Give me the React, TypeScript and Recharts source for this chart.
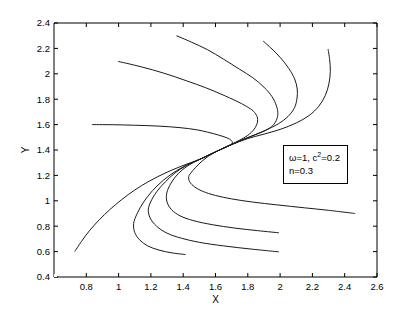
import React from 'react';
import { LineChart, Line, XAxis, YAxis, Customized } from 'recharts';

type P = [number, number];

const xTicks = [0.8, 1, 1.2, 1.4, 1.6, 1.8, 2, 2.2, 2.4, 2.6];
const yTicks = [0.4, 0.6, 0.8, 1, 1.2, 1.4, 1.6, 1.8, 2, 2.2, 2.4];
const frameCorner = [{ x: 0.6, y: 0.4 }];

// upper branches (from the central pinch outwards)
const upper1: P[] = [[1.6, 1.385], [1.7, 1.442], [1.8, 1.49], [1.9, 1.525], [2.0, 1.562], [2.1, 1.613], [2.18, 1.672], [2.24, 1.745], [2.28, 1.83], [2.302, 1.92], [2.311, 2.02], [2.307, 2.11], [2.297, 2.195]];
const upper2: P[] = [[1.6, 1.385], [1.7, 1.443], [1.8, 1.497], [1.9, 1.55], [1.99, 1.607], [2.05, 1.665], [2.09, 1.735], [2.105, 1.81], [2.106, 1.88], [2.09, 1.96], [2.055, 2.04], [2.0, 2.13], [1.95, 2.195], [1.895, 2.258]];
const upper3: P[] = [[1.6, 1.385], [1.7, 1.445], [1.8, 1.498], [1.88, 1.537], [1.935, 1.572], [1.97, 1.617], [1.986, 1.68], [1.978, 1.745], [1.95, 1.82], [1.9, 1.895], [1.83, 1.97], [1.75, 2.035], [1.65, 2.115], [1.55, 2.19], [1.45, 2.25], [1.358, 2.3]];
const upper4: P[] = [[1.6, 1.385], [1.7, 1.446], [1.75, 1.478], [1.8, 1.515], [1.84, 1.565], [1.86, 1.62], [1.858, 1.662], [1.835, 1.705], [1.79, 1.745], [1.73, 1.785], [1.64, 1.837], [1.54, 1.89], [1.42, 1.945], [1.28, 2.005], [1.14, 2.055], [0.996, 2.098]];
const upper5: P[] = [[1.6, 1.385], [1.65, 1.415], [1.69, 1.438], [1.705, 1.456], [1.697, 1.476], [1.67, 1.496], [1.62, 1.517], [1.55, 1.541], [1.48, 1.56], [1.38, 1.576], [1.25, 1.588], [1.1, 1.595], [0.96, 1.599], [0.835, 1.6]];

// lower branches (from the central pinch outwards)
const lower1: P[] = [[1.6, 1.385], [1.5, 1.325], [1.42, 1.288], [1.3, 1.225], [1.19, 1.155], [1.1, 1.085], [1.02, 1.01], [0.945, 0.93], [0.88, 0.85], [0.82, 0.765], [0.77, 0.68], [0.728, 0.6]];
const lower2: P[] = [[1.6, 1.385], [1.5, 1.325], [1.44, 1.293], [1.36, 1.238], [1.28, 1.165], [1.21, 1.08], [1.155, 0.99], [1.115, 0.9], [1.093, 0.82], [1.1, 0.75], [1.13, 0.693], [1.18, 0.645], [1.25, 0.612], [1.33, 0.59], [1.414, 0.577]];
const lower3: P[] = [[1.6, 1.385], [1.5, 1.325], [1.42, 1.278], [1.35, 1.22], [1.29, 1.15], [1.235, 1.07], [1.198, 0.99], [1.184, 0.93], [1.195, 0.865], [1.235, 0.8], [1.3, 0.745], [1.39, 0.705], [1.5, 0.673], [1.65, 0.645], [1.82, 0.62], [1.993, 0.598]];
const lower4: P[] = [[1.6, 1.385], [1.5, 1.325], [1.43, 1.277], [1.37, 1.215], [1.325, 1.14], [1.298, 1.06], [1.3, 0.99], [1.328, 0.93], [1.38, 0.882], [1.46, 0.845], [1.58, 0.812], [1.72, 0.785], [1.86, 0.765], [1.993, 0.748]];
const lower5: P[] = [[1.6, 1.385], [1.55, 1.345], [1.51, 1.305], [1.475, 1.26], [1.448, 1.22], [1.434, 1.19], [1.44, 1.15], [1.47, 1.11], [1.52, 1.075], [1.6, 1.042], [1.7, 1.015], [1.83, 0.99], [1.98, 0.968], [2.15, 0.945], [2.3, 0.925], [2.465, 0.9]];

const curves: P[][] = [upper1, upper2, upper3, upper4, upper5, lower1, lower2, lower3, lower4, lower5];

const toData = (pts: P[]) => pts.map(([x, y]) => ({ x, y }));

// centripetal Catmull-Rom curve factory (d3 curve interface)
function catmullRom(this: any, context: any) {
  let pts: number[][] = [];
  return {
    areaStart() {},
    areaEnd() {},
    lineStart() {
      pts = [];
    },
    point(x: number, y: number) {
      pts.push([+x, +y]);
    },
    lineEnd() {
      if (!pts.length) return;
      context.moveTo(pts[0][0], pts[0][1]);
      const d = (a: number[], b: number[]) => Math.hypot(a[0] - b[0], a[1] - b[1]);
      for (let i = 0; i < pts.length - 1; i++) {
        const p0 = pts[i - 1] || pts[i];
        const p1 = pts[i];
        const p2 = pts[i + 1];
        const p3 = pts[i + 2] || p2;
        const d01 = d(p0, p1), d12 = d(p1, p2), d23 = d(p2, p3);
        const l01 = Math.sqrt(d01), l12 = Math.sqrt(d12), l23 = Math.sqrt(d23);
        let c1 = [p1[0], p1[1]];
        let c2 = [p2[0], p2[1]];
        if (l01 > 1e-9) {
          const a = 2 * d01 + 3 * l01 * l12 + d12;
          const n = 3 * l01 * (l01 + l12);
          c1 = [(p1[0] * a - p0[0] * d12 + p2[0] * d01) / n, (p1[1] * a - p0[1] * d12 + p2[1] * d01) / n];
        }
        if (l23 > 1e-9) {
          const b = 2 * d23 + 3 * l23 * l12 + d12;
          const m = 3 * l23 * (l23 + l12);
          c2 = [(p2[0] * b + p1[0] * d23 - p3[0] * d12) / m, (p2[1] * b + p1[1] * d23 - p3[1] * d12) / m];
        }
        context.bezierCurveTo(c1[0], c1[1], c2[0], c2[1], p2[0], p2[1]);
      }
    },
  };
}

const FONT = "'Liberation Sans', Arial, Helvetica, sans-serif";
const tickStyle = { fill: '#000', fontSize: 9.5, fontFamily: FONT };
const lineStyle = { stroke: '#000' };
const blank = () => '';

const LegendBox = () => (
  <g>
    <rect x={283.5} y={145.5} width={64} height={38} fill="#fff" stroke="#000" strokeWidth={1} />
    <text x={289} y={160.5} fontSize={9.5} fontFamily={FONT} fill="#000">
      ω=1, c<tspan dy={-4} fontSize={7}>2</tspan><tspan dy={4}>=0.2</tspan>
    </text>
    <text x={289} y={174} fontSize={9.5} fontFamily={FONT} fill="#000">n=0.3</text>
  </g>
);

export default function App() {
  return (
    <div style={{ position: 'absolute', left: 0, top: 0, width: 415, height: 313, background: '#fff' }}>
      <LineChart width={415} height={313} margin={{ top: 22, right: 37, left: 0, bottom: 0 }}>
        <XAxis
          dataKey="x"
          type="number"
          domain={[0.6, 2.6]}
          ticks={xTicks}
          interval={0}
          allowDataOverflow
          height={36}
          tickSize={-4}
          tickMargin={10}
          tick={tickStyle}
          tickLine={lineStyle}
          axisLine={lineStyle}
          label={{
            content: (props: any) => {
              const vb = props.viewBox || { x: 54, y: 277, width: 323, height: 36 };
              return (
                <text x={vb.x + vb.width / 2} y={vb.y + 25.5} textAnchor="middle" fontSize={10} fontFamily={FONT} fill="#000">X</text>
              );
            },
          }}
        />
        <XAxis
          xAxisId="top"
          orientation="top"
          dataKey="x"
          type="number"
          domain={[0.6, 2.6]}
          ticks={xTicks}
          interval={0}
          allowDataOverflow
          height={1}
          tickSize={-4}
          tickFormatter={blank}
          tickLine={lineStyle}
          axisLine={lineStyle}
        />
        <YAxis
          dataKey="y"
          type="number"
          domain={[0.4, 2.4]}
          ticks={yTicks}
          interval={0}
          allowDataOverflow
          width={54}
          tickSize={-4}
          tickMargin={8}
          tick={tickStyle}
          tickLine={lineStyle}
          axisLine={lineStyle}
          label={{
            content: (props: any) => {
              const vb = props.viewBox || { x: 0, y: 23, width: 54, height: 254 };
              const cx = 28.5;
              const cy = vb.y + vb.height / 2;
              return (
                <text x={cx} y={cy} textAnchor="middle" fontSize={10} fontFamily={FONT} fill="#000" transform={`rotate(-90, ${cx}, ${cy})`}>Y</text>
              );
            },
          }}
        />
        <YAxis
          yAxisId="right"
          orientation="right"
          dataKey="y"
          type="number"
          domain={[0.4, 2.4]}
          ticks={yTicks}
          interval={0}
          allowDataOverflow
          width={1}
          tickSize={-4}
          tickFormatter={blank}
          tickLine={lineStyle}
          axisLine={lineStyle}
        />
        <Line
          xAxisId="top"
          yAxisId="right"
          data={frameCorner}
          dataKey="y"
          stroke="none"
          dot={false}
          activeDot={false}
          legendType="none"
          isAnimationActive={false}
        />
        {curves.map((c, i) => (
          <Line
            key={i}
            data={toData(c)}
            dataKey="y"
            type={catmullRom as any}
            dot={false}
            activeDot={false}
            stroke="#1a1a1a"
            strokeWidth={1}
            isAnimationActive={false}
          />
        ))}
        <Customized component={LegendBox} />
      </LineChart>
    </div>
  );
}
